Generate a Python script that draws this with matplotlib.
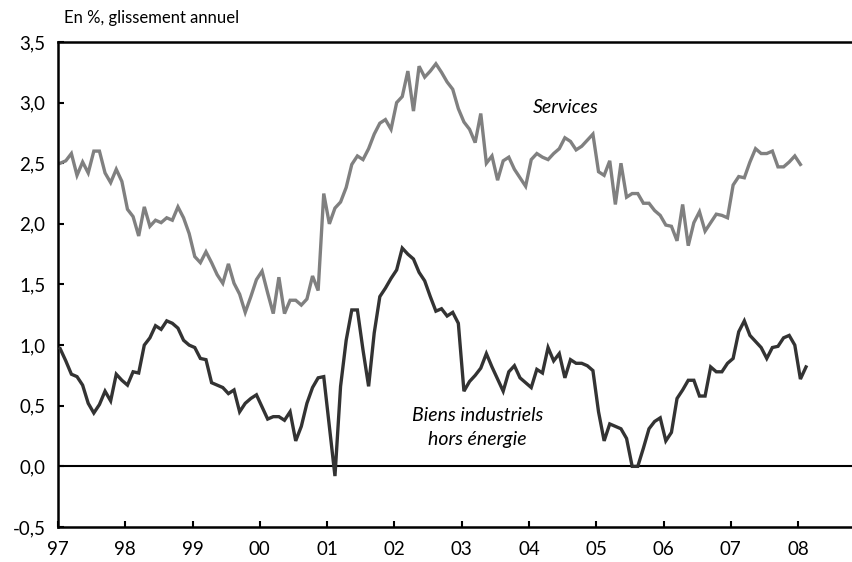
import numpy as np
import matplotlib
matplotlib.use("Agg")
import matplotlib.pyplot as plt
from matplotlib.ticker import FuncFormatter, MultipleLocator

plt.rcParams['font.family'] = ['Lato', 'DejaVu Sans']

# Glissement annuel mensuel, janvier 1997 -> début 2008
services = [
    2.50, 2.52, 2.58, 2.40, 2.51, 2.42, 2.60, 2.60, 2.42, 2.34, 2.45, 2.35,  # 1997
    2.12, 2.06, 1.90, 2.14, 1.98, 2.03, 2.01, 2.05, 2.03, 2.14, 2.05, 1.92,  # 1998
    1.73, 1.68, 1.77, 1.68, 1.58, 1.51, 1.67, 1.51, 1.42, 1.27, 1.40, 1.54,  # 1999
    1.61, 1.43, 1.26, 1.56, 1.26, 1.37, 1.37, 1.33, 1.38, 1.57, 1.45, 2.25,  # 2000
    2.00, 2.13, 2.18, 2.30, 2.49, 2.56, 2.53, 2.62, 2.74, 2.83, 2.86, 2.78,  # 2001
    3.00, 3.05, 3.26, 2.93, 3.30, 3.21, 3.26, 3.32, 3.25, 3.17, 3.11, 2.95,  # 2002
    2.84, 2.78, 2.67, 2.91, 2.50, 2.56, 2.36, 2.52, 2.55, 2.45, 2.38, 2.31,  # 2003
    2.53, 2.58, 2.55, 2.53, 2.58, 2.62, 2.71, 2.68, 2.61, 2.64, 2.69, 2.74,  # 2004
    2.43, 2.40, 2.52, 2.16, 2.50, 2.22, 2.25, 2.25, 2.17, 2.17, 2.11, 2.07,  # 2005
    1.99, 1.98, 1.86, 2.16, 1.82, 2.01, 2.10, 1.94, 2.01, 2.08, 2.07, 2.05,  # 2006
    2.32, 2.39, 2.38, 2.51, 2.62, 2.58, 2.58, 2.60, 2.47, 2.47, 2.51, 2.56,  # 2007
    2.49,                                                                    # 2008
]

biens_indus = [
    0.97, 0.87, 0.76, 0.74, 0.67, 0.52, 0.44, 0.51, 0.62, 0.54, 0.76, 0.71,  # 1997
    0.67, 0.78, 0.77, 1.00, 1.06, 1.16, 1.13, 1.20, 1.18, 1.14, 1.04, 1.00,  # 1998
    0.98, 0.89, 0.88, 0.69, 0.67, 0.65, 0.60, 0.63, 0.45, 0.52, 0.56, 0.59,  # 1999
    0.49, 0.39, 0.41, 0.41, 0.38, 0.45, 0.21, 0.33, 0.52, 0.65, 0.73, 0.74,  # 2000
    0.33, -0.08, 0.66, 1.04, 1.29, 1.29, 0.96, 0.66, 1.10, 1.40, 1.47, 1.55, # 2001
    1.62, 1.80, 1.75, 1.71, 1.60, 1.53, 1.40, 1.28, 1.30, 1.24, 1.27, 1.18,  # 2002
    0.62, 0.70, 0.75, 0.81, 0.93, 0.82, 0.72, 0.62, 0.78, 0.83, 0.73, 0.69,  # 2003
    0.65, 0.80, 0.77, 0.98, 0.87, 0.93, 0.73, 0.88, 0.85, 0.85, 0.83, 0.79,  # 2004
    0.45, 0.21, 0.35, 0.33, 0.31, 0.23, 0.00, 0.00, 0.15, 0.31, 0.37, 0.40,  # 2005
    0.21, 0.28, 0.56, 0.63, 0.71, 0.71, 0.58, 0.58, 0.82, 0.78, 0.78, 0.85,  # 2006
    0.89, 1.11, 1.20, 1.08, 1.03, 0.98, 0.89, 0.98, 0.99, 1.06, 1.08, 1.00,  # 2007
    0.72, 0.82,                                                              # 2008
]

year_ticks = list(range(1997, 2009))
year_labels = ['97', '98', '99', '00', '01', '02', '03', '04', '05', '06', '07', '08']

# position des mois (données datées en milieu de mois)
x_serv = 1997 + (np.arange(len(services)) + 0.4) / 12
x_bien = 1997 + (np.arange(len(biens_indus)) + 0.4) / 12

fig = plt.figure(figsize=(8.52, 5.62), dpi=100)
ax = fig.add_axes([0.068, 0.0623, 0.932, 0.863])

ax.axhline(0, color='black', lw=1.5, zorder=1)
ax.plot(x_serv, services, color='#808080', lw=2.4, solid_joinstyle='miter', zorder=2)
ax.plot(x_bien, biens_indus, color='#333333', lw=2.4, solid_joinstyle='miter', zorder=3)

ax.set_xlim(1997, 2008.8)
ax.set_ylim(-0.5, 3.5)
ax.set_xticks(year_ticks)
ax.set_xticklabels(year_labels)
ax.yaxis.set_major_locator(MultipleLocator(0.5))
ax.yaxis.set_major_formatter(FuncFormatter(lambda v, p: f'{v:.1f}'.replace('.', ',')))

ax.tick_params(axis='both', direction='in', length=4, width=1.5, labelsize=13.5, color='black')
ax.tick_params(axis='x', pad=10)
ax.tick_params(axis='y', pad=9, right=False)
ax.tick_params(axis='x', top=False)

for side in ['left', 'bottom', 'top']:
    ax.spines[side].set_linewidth(1.8)
ax.spines['right'].set_visible(False)

ax.text(2004.55, 2.96, 'Services', style='italic', fontsize=14, ha='center', va='center')
ax.text(2003.23, 0.32, 'Biens industriels\nhors énergie', style='italic', fontsize=14,
        ha='center', va='center', linespacing=1.45)

fig.text(0.075, 0.968, 'En %, glissement annuel', fontsize=12, ha='left', va='center')

fig.savefig('out.png', dpi=100)
